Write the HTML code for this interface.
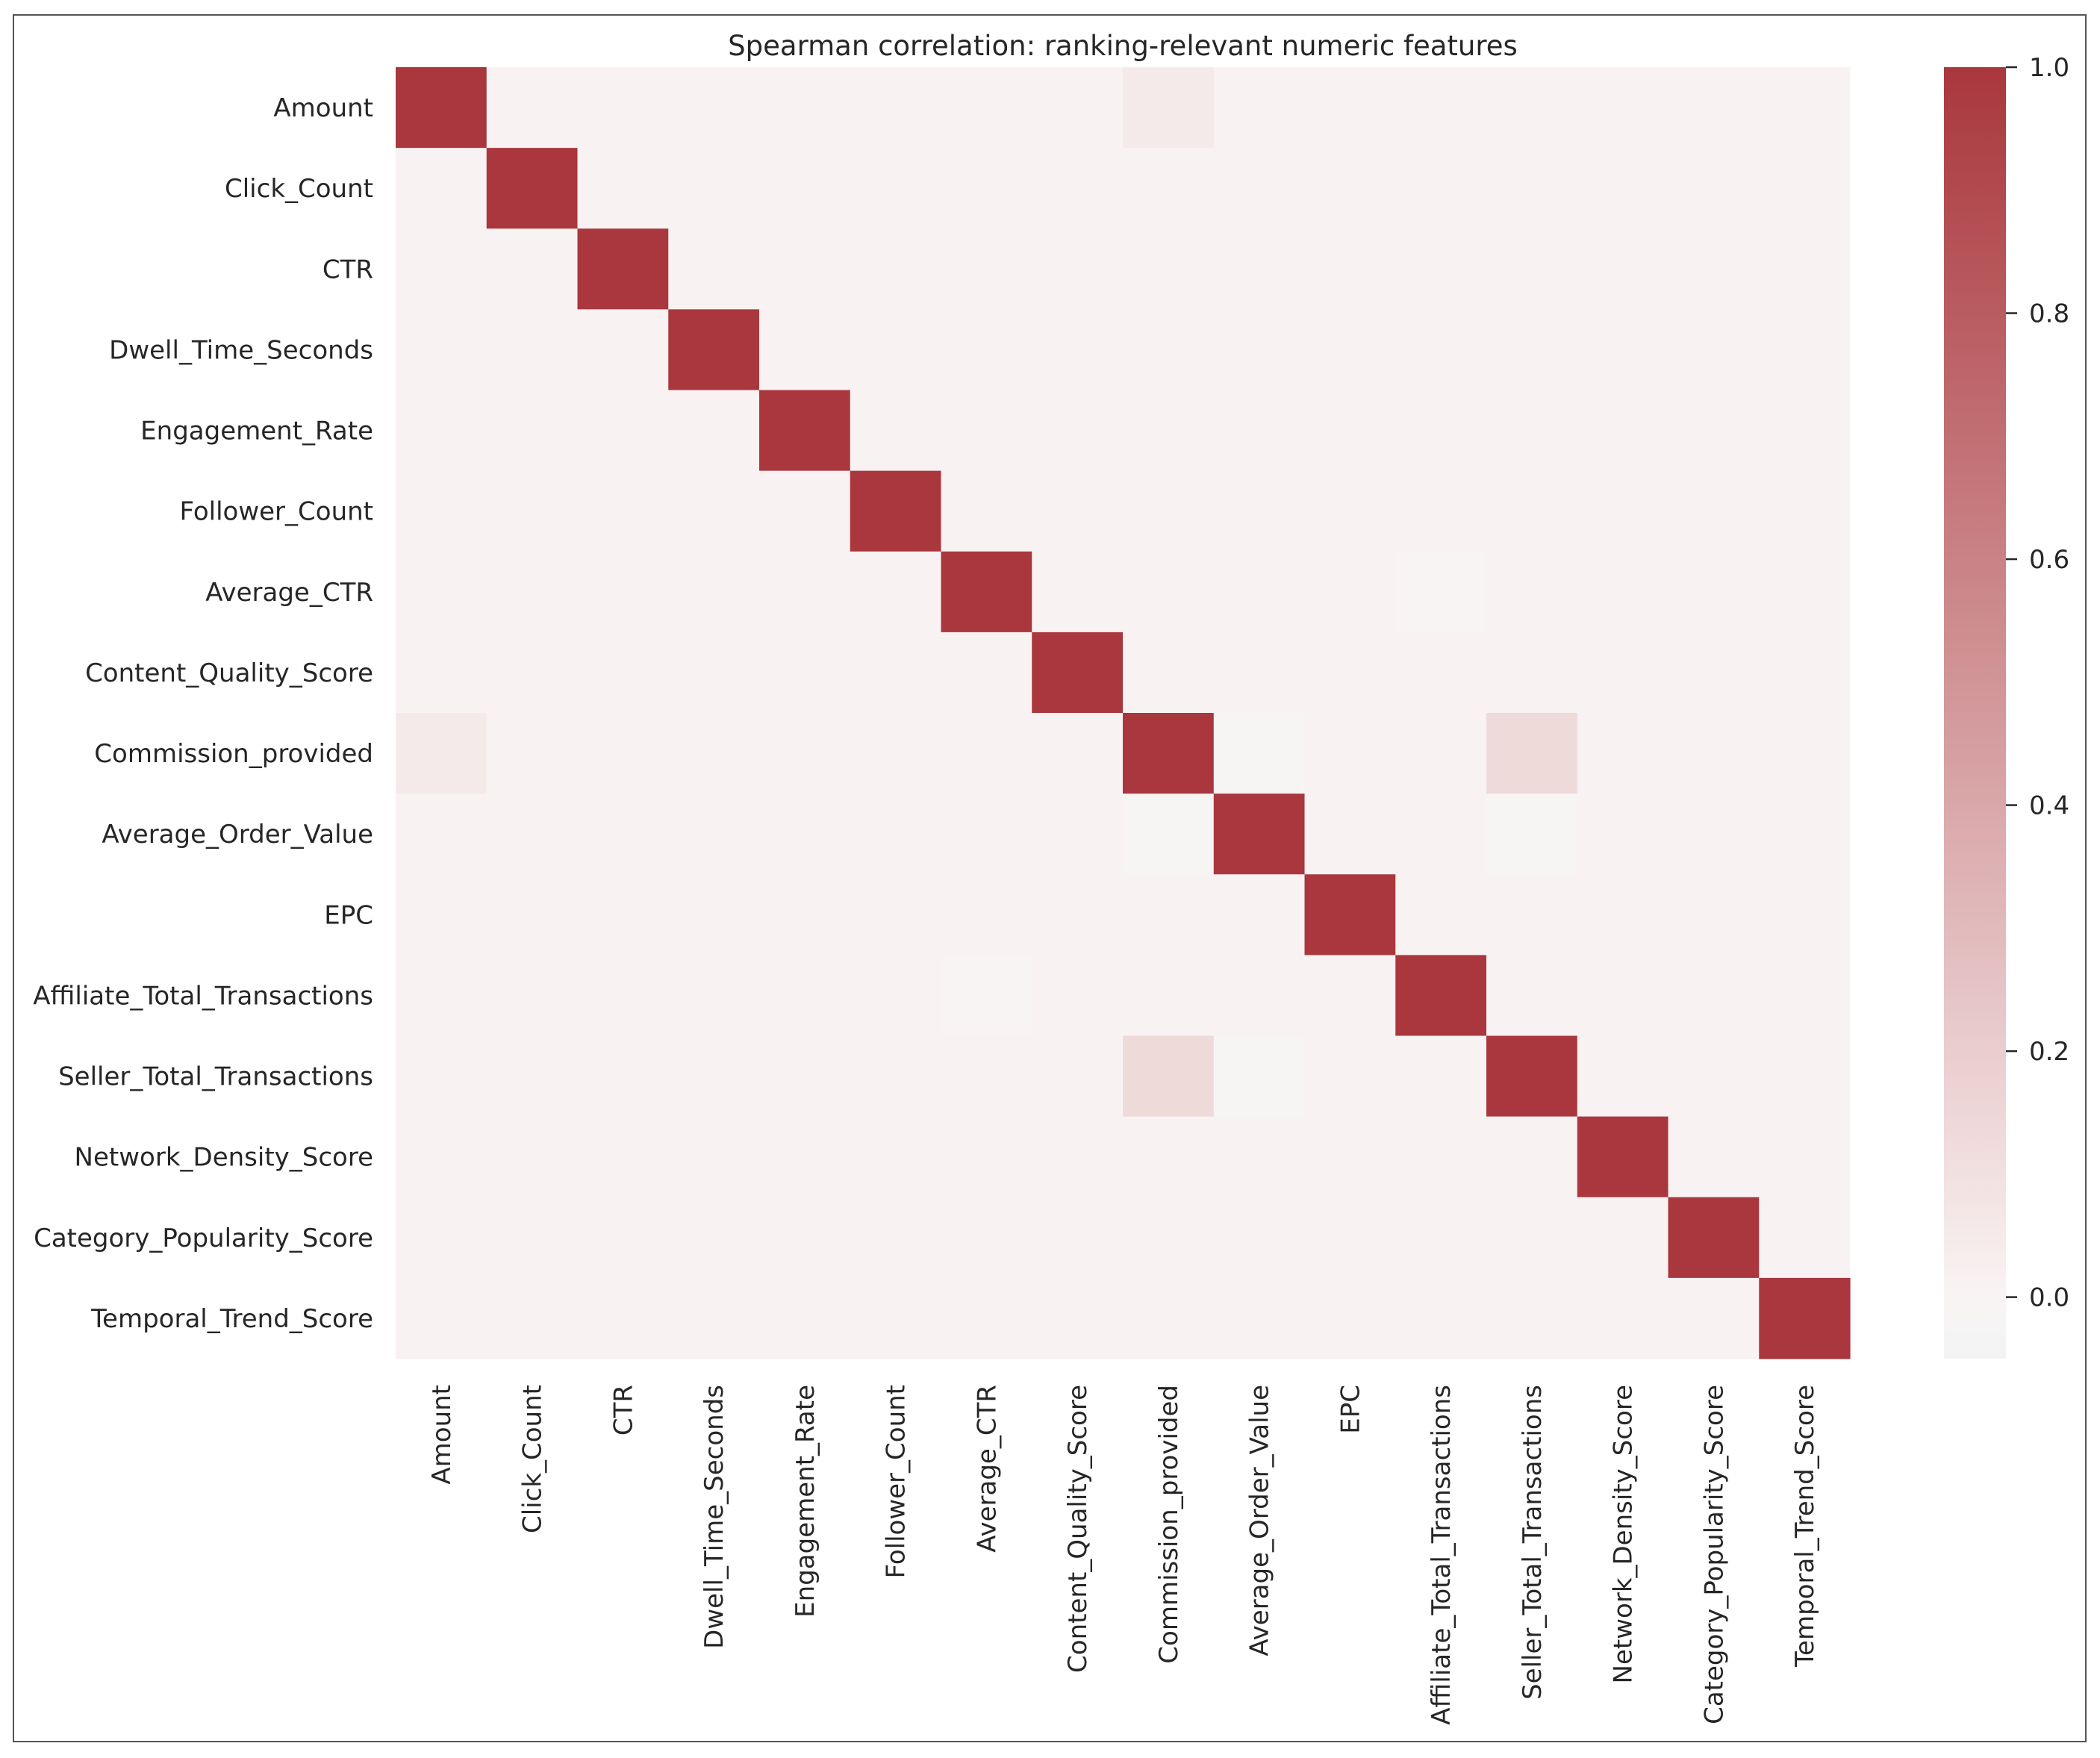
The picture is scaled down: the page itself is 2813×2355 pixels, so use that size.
<!DOCTYPE html>
<html><head><meta charset="utf-8">
<style>
html,body{margin:0;padding:0;background:#fff;}
svg{display:block;}
text{font-family:"DejaVu Sans","Liberation Sans",sans-serif;fill:#262626;}
</style></head>
<body>
<svg id="chart" width="2813" height="2355" viewBox="0 0 2813 2355" xmlns="http://www.w3.org/2000/svg">
<rect x="18" y="20" width="2776" height="2313" fill="#fff" stroke="#555" stroke-width="2"/>
<text x="1504" y="74" font-size="37" text-anchor="middle">Spearman correlation: ranking-relevant numeric features</text>
<g id="cells"></g>
<g id="ylabels"></g>
<g id="xlabels"></g>
<defs><linearGradient id="cbg" x1="0" y1="1" x2="0" y2="0"></linearGradient></defs>
<rect id="cbar" x="2604" y="90" width="83" height="1730" fill="url(#cbg)"/>
<g id="cbticks"></g>
</svg>
<script>
const features = ["Amount","Click_Count","CTR","Dwell_Time_Seconds","Engagement_Rate","Follower_Count","Average_CTR","Content_Quality_Score","Commission_provided","Average_Order_Value","EPC","Affiliate_Total_Transactions","Seller_Total_Transactions","Network_Density_Score","Category_Popularity_Score","Temporal_Trend_Score"];
const baseValue = 0.01;
// off-diagonal notable correlations: [row, col, value]
const notablePairs = [[0,8,0.05],[8,9,-0.02],[8,12,0.13],[9,12,-0.02],[6,11,-0.01]];
const cbTicks = [0.0,0.2,0.4,0.6,0.8,1.0];
const vmin = -0.05, vmax = 1.0;

const NS="http://www.w3.org/2000/svg";
const X0=530,Y0=90,W=1948,H=1730;
const n=features.length, cw=W/n, ch=H/n;
const colX=i=>X0+i*cw, rowY=i=>Y0+i*ch;
const cbY=v=>90+(vmax-v)/(vmax-vmin)*1730;
const stops=[[-0.05,[243,243,244]],[0,[249,244,244]],[0.12,[240,220,220]],[1,[169,55,61]]];
function color(v){
  if(v<=stops[0][0])return 'rgb('+stops[0][1].join(',')+')';
  for(let k=1;k<stops.length;k++){
    if(v<=stops[k][0]){const a=stops[k-1],b=stops[k];const t=(v-a[0])/(b[0]-a[0]);
      return 'rgb('+a[1].map((c,j)=>Math.round(c+(b[1][j]-c)*t)).join(',')+')';}
  }
  return 'rgb('+stops[stops.length-1][1].join(',')+')';
}
const M=features.map((_,i)=>features.map((_,j)=>i===j?1:baseValue));
notablePairs.forEach(([i,j,v])=>{M[i][j]=v;M[j][i]=v;});
const cells=document.getElementById('cells');
for(let i=0;i<n;i++)for(let j=0;j<n;j++){
  const r=document.createElementNS(NS,'rect');
  r.setAttribute('x',colX(j));r.setAttribute('y',rowY(i));
  r.setAttribute('width',cw+0.6);r.setAttribute('height',ch+0.6);
  r.setAttribute('fill',color(M[i][j]));
  
  
  cells.appendChild(r);
}
const yl=document.getElementById('ylabels'), xl=document.getElementById('xlabels');
features.forEach((f,i)=>{
  const t=document.createElementNS(NS,'text');
  t.setAttribute('x',500);t.setAttribute('y',rowY(i)+ch/2+12);
  t.setAttribute('font-size','34');t.setAttribute('text-anchor','end');
  t.textContent=f;
  
  
  yl.appendChild(t);
  const u=document.createElementNS(NS,'text');
  const cx=colX(i)+cw/2+12, cy=1855;
  u.setAttribute('x',cx);u.setAttribute('y',cy);
  u.setAttribute('font-size','34');u.setAttribute('text-anchor','end');
  u.setAttribute('transform','rotate(-90 '+cx+' '+cy+')');
  u.textContent=f;
  
  
  xl.appendChild(u);
});
const g=document.getElementById('cbg');
for(let k=0;k<=40;k++){
  const v=vmin+(vmax-vmin)*k/40;
  const s=document.createElementNS(NS,'stop');
  s.setAttribute('offset',(k/40*100)+'%');s.setAttribute('stop-color',color(v));
  g.appendChild(s);
}
const ct=document.getElementById('cbticks');
cbTicks.forEach(v=>{
  const y=cbY(v);
  const l=document.createElementNS(NS,'line');
  l.setAttribute('x1',2687);l.setAttribute('x2',2702);l.setAttribute('y1',y);l.setAttribute('y2',y);
  l.setAttribute('stroke','#262626');l.setAttribute('stroke-width','2.5');
  
  
  ct.appendChild(l);
  const t=document.createElementNS(NS,'text');
  t.setAttribute('x',2718);t.setAttribute('y',y+12);t.setAttribute('font-size','34');
  t.textContent=v.toFixed(1);
  
  
  ct.appendChild(t);
});
</script>
</body></html>
